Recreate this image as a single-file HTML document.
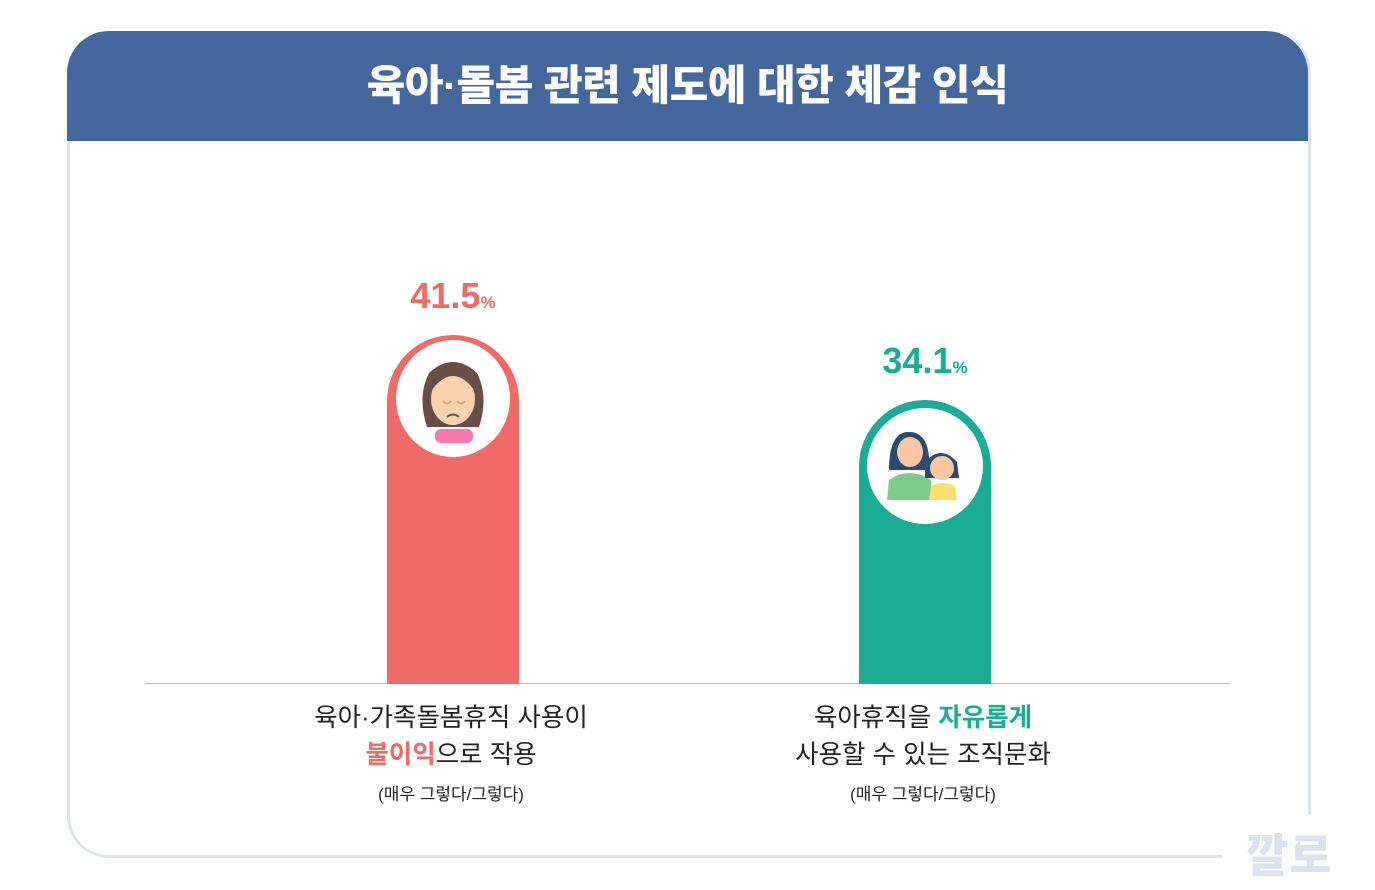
<!DOCTYPE html>
<html><head><meta charset="utf-8"><style>
body{margin:0;width:1375px;height:890px;background:#fff;position:relative;overflow:hidden;font-family:"Liberation Sans","Noto Sans CJK KR",sans-serif}
.card{position:absolute;left:67px;top:31px;width:1238px;height:824px;border:3px solid #dfe3ec;border-top:none;border-radius:42px;box-sizing:content-box}
.hdr{position:absolute;left:67px;top:31px;width:1241px;height:110px;background:#44679e;border-radius:42px 42px 0 0;color:#fff;font-size:42px;font-weight:900;text-align:center;line-height:110px;letter-spacing:-0.5px}
.gapR{position:absolute;left:1300px;top:815px;width:20px;height:60px;background:#fff}
.gapB{position:absolute;left:1222px;top:845px;width:100px;height:20px;background:#fff}
.bar{position:absolute;width:132px;border-radius:66px 66px 0 0}
.circ{position:absolute;background:#fff;border-radius:50%}
.pct{position:absolute;width:200px;text-align:center;font-size:36px;font-weight:bold}
.pct small{font-size:17px}
.lbl{position:absolute;width:400px;text-align:center;font-size:25.5px;color:#222;line-height:37px}
.sm{font-size:17px}
</style></head><body>
<div class="card"></div>
<div class="gapR"></div><div class="gapB"></div>
<div class="hdr">육아·돌봄 관련 제도에 대한 체감 인식</div>
<div style="position:absolute;left:145px;top:683px;width:1085px;height:1px;background:#bbb"></div>

<div class="bar" style="left:387px;top:335px;height:349px;background:#f06a68"></div>
<div class="circ" style="left:396px;top:340px;width:114px;height:117px"></div>
<svg style="position:absolute;left:415px;top:357px" width="76" height="86" viewBox="0 0 76 86">
<path d="M12 70 Q2 40 14 16 Q38 -6 62 16 Q74 40 64 70Z" fill="#6b4d47"/>
<ellipse cx="38" cy="42" rx="22" ry="26" fill="#fbd2ae"/>
<path d="M16 34 Q38 4 60 34 Q50 14 38 14 Q24 14 16 34Z" fill="#6b4d47"/>
<rect x="20" y="72" width="38" height="14" rx="6" fill="#f777b0"/>
<path d="M28 44 q4 5 8 0 M42 44 q4 5 8 0" stroke="#d9a87a" stroke-width="2" fill="none"/>
<path d="M32 60 q6 -5 12 0" stroke="#6b4d47" stroke-width="2" fill="none"/>
</svg>
<div class="pct" style="left:353px;top:275px;color:#f06a68">41.5<small>%</small></div>

<div class="bar" style="left:859px;top:400px;height:284px;background:#1aad96"></div>
<div class="circ" style="left:867px;top:408px;width:116px;height:116px"></div>
<svg style="position:absolute;left:885px;top:430px" width="80" height="72" viewBox="0 0 80 72">
<path d="M4 40 Q4 0 26 2 Q46 4 44 40Z" fill="#2b4a6e"/>
<ellipse cx="25" cy="22" rx="13" ry="15" fill="#fbc7a0"/>
<path d="M2 70 L4 50 Q24 36 46 50 L46 70Z" fill="#7fcb8a"/>
<path d="M40 32 Q56 14 72 32 L74 48 L40 48Z" fill="#2b4a6e"/>
<ellipse cx="57" cy="38" rx="12" ry="12" fill="#fbc7a0"/>
<path d="M44 70 L46 56 Q57 50 70 56 L72 70Z" fill="#f8e070"/>
</svg>
<div class="pct" style="left:825px;top:340px;color:#1aad96">34.1<small>%</small></div>

<div class="lbl" style="left:251px;top:700px">육아·가족돌봄휴직 사용이<br><b style="color:#f06a68">불이익</b>으로 작용<br><span class="sm">(매우 그렇다/그렇다)</span></div>
<div class="lbl" style="left:723px;top:700px">육아휴직을 <b style="color:#1aad96">자유롭게</b><br>사용할 수 있는 조직문화<br><span class="sm">(매우 그렇다/그렇다)</span></div>

<div style="position:absolute;left:1246px;top:820px;font-size:46px;font-weight:900;color:#dde2ec;letter-spacing:1px">깔로</div>
</body></html>
